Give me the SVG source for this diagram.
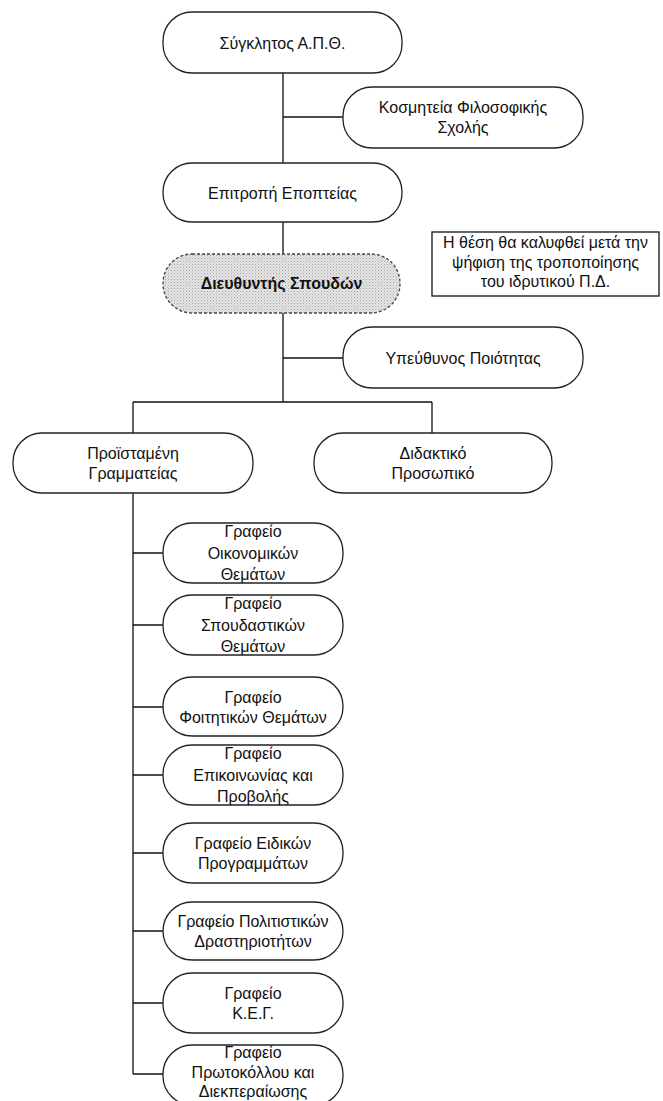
<svg xmlns="http://www.w3.org/2000/svg" width="663" height="1101" viewBox="0 0 663 1101">
<style>
.n{fill:#fff;stroke:#222;stroke-width:1.3}
.d{fill:url(#dots);stroke:#444;stroke-width:1.3;stroke-dasharray:3 2}
.t{font-family:"Liberation Sans",Arial,sans-serif;font-size:16px;fill:#111;text-anchor:middle}
.b{font-weight:bold}
.c{fill:none;stroke:#111;stroke-width:1.3}
</style>
<defs>
<pattern id="dots" width="3" height="3" patternUnits="userSpaceOnUse">
<rect width="3" height="3" fill="#e4e4e4"/>
<rect width="1" height="1" fill="#a8a8a8"/>
<rect x="1.5" y="1.5" width="1" height="1" fill="#bdbdbd"/>
</pattern>
</defs>
<rect width="663" height="1101" fill="#fff"/>
<g id="connectors">
<path class="c" d="M283 73V163M283 117H343M283 222V254M283 313V402M283 358H343M133 402H432M133 402V433M432 402V433"/>
<path class="c" d="M133 493V1074M133 553H163M133 625H163M133 707H163M133 775H163M133 853H163M133 931H163M133 1003H163M133 1074H163"/>
</g>
<g id="synklitos"><rect class="n" x="163" y="12" width="239" height="61" rx="29"/><text class="t" x="282.5" y="49">Σύγκλητος Α.Π.Θ.</text></g>
<g id="kosmiteia"><rect class="n" x="343" y="87" width="240" height="61" rx="29"/><text class="t" x="463" y="113">Κοσμητεία Φιλοσοφικής</text><text class="t" x="463" y="133">Σχολής</text></g>
<g id="epitropi"><rect class="n" x="163" y="163" width="239" height="59" rx="29"/><text class="t" x="282.5" y="199">Επιτροπή Εποπτείας</text></g>
<g id="diefthyntis"><rect class="d" x="163" y="254" width="237" height="59" rx="29"/><text class="t b" x="281.5" y="289">Διευθυντής Σπουδών</text></g>
<g id="note"><rect x="432" y="232" width="227" height="64" fill="#fff" stroke="#111" stroke-width="1.3"/><text class="t" x="545.5" y="248">Η θέση θα καλυφθεί μετά την</text><text class="t" x="545.5" y="268">ψήφιση της τροποποίησης</text><text class="t" x="545.5" y="287">του ιδρυτικού Π.Δ.</text></g>
<g id="ypefthynos"><rect class="n" x="343" y="327" width="240" height="61" rx="29"/><text class="t" x="463" y="364">Υπεύθυνος Ποιότητας</text></g>
<g id="proistameni"><rect class="n" x="13" y="433" width="240" height="60" rx="29"/><text class="t" x="133" y="459">Προϊσταμένη</text><text class="t" x="133" y="479">Γραμματείας</text></g>
<g id="didaktiko"><rect class="n" x="314" y="433" width="238" height="60" rx="29"/><text class="t" x="433" y="459">Διδακτικό</text><text class="t" x="433" y="479">Προσωπικό</text></g>
<g id="g1"><rect class="n" x="163" y="523" width="180" height="60" rx="29"/><text class="t" x="253" y="537">Γραφείο</text><text class="t" x="253" y="559">Οικονομικών</text><text class="t" x="253" y="580">Θεμάτων</text></g>
<g id="g2"><rect class="n" x="163" y="595" width="180" height="60" rx="29"/><text class="t" x="253" y="609">Γραφείο</text><text class="t" x="253" y="631">Σπουδαστικών</text><text class="t" x="253" y="652">Θεμάτων</text></g>
<g id="g3"><rect class="n" x="163" y="677" width="180" height="59" rx="29"/><text class="t" x="253" y="703">Γραφείο</text><text class="t" x="253" y="723">Φοιτητικών Θεμάτων</text></g>
<g id="g4"><rect class="n" x="163" y="745" width="180" height="60" rx="29"/><text class="t" x="253" y="759">Γραφείο</text><text class="t" x="253" y="781">Επικοινωνίας και</text><text class="t" x="253" y="802">Προβολής</text></g>
<g id="g5"><rect class="n" x="163" y="823" width="180" height="60" rx="29"/><text class="t" x="253" y="849">Γραφείο Ειδικών</text><text class="t" x="253" y="869">Προγραμμάτων</text></g>
<g id="g6"><rect class="n" x="163" y="902" width="180" height="58" rx="29"/><text class="t" x="253" y="927">Γραφείο Πολιτιστικών</text><text class="t" x="253" y="947">Δραστηριοτήτων</text></g>
<g id="g7"><rect class="n" x="163" y="973" width="180" height="60" rx="29"/><text class="t" x="253" y="999">Γραφείο</text><text class="t" x="253" y="1019">Κ.Ε.Γ.</text></g>
<g id="g8"><rect class="n" x="163" y="1045" width="180" height="60" rx="29"/><text class="t" x="253" y="1058">Γραφείο</text><text class="t" x="253" y="1078">Πρωτοκόλλου και</text><text class="t" x="253" y="1097">Διεκπεραίωσης</text></g>
</svg>
